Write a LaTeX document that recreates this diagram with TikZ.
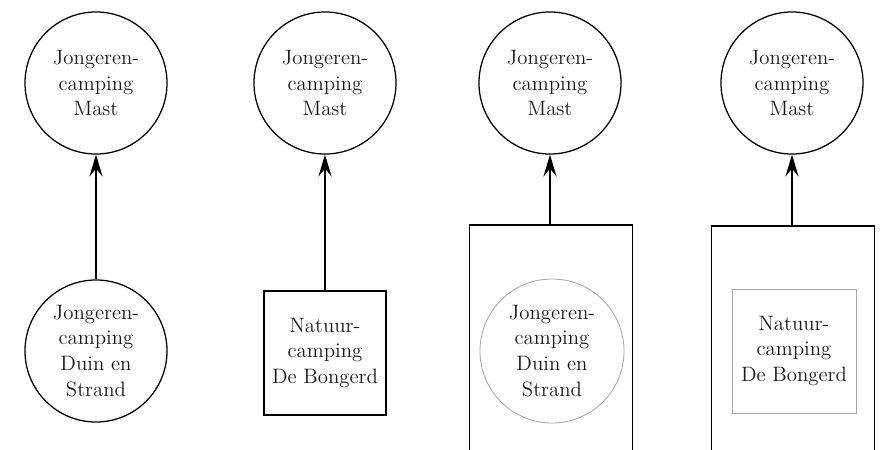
\documentclass[tikz,border=0pt]{standalone}
\usepackage{xcolor}
\usepackage{tikz}
\usetikzlibrary{positioning,arrows.meta}

\begin{document}
\begin{tikzpicture}[x=0.025cm, y=-0.025cm,
  camp/.style={draw, circle, line width=0.9pt, minimum size=3.55cm, inner sep=0pt, align=center, text=black!90, font=\fontsize{14.8}{18.4}\selectfont},
  nat/.style={draw, rectangle, line width=0.9pt, minimum width=3.05cm, minimum height=3.1cm, inner sep=0pt, align=center, text=black!90, font=\fontsize{14.8}{18.4}\selectfont},
  grp/.style={draw, rectangle, line width=0.9pt, minimum width=4.08cm, minimum height=6.9cm, inner sep=0pt},
  inner/.style={draw=black!35, line width=0.6pt},
  arr/.style={-{Stealth[length=5.5mm, width=3.3mm, inset=2mm]}, line width=0.9pt}
]
\clip (0,0) rectangle (884,449);

% top row
\node[camp] (mast1) at (96,83)  {Jongeren-\\camping\\Mast};
\node[camp] (mast2) at (325,83) {Jongeren-\\camping\\Mast};
\node[camp] (mast3) at (550,83) {Jongeren-\\camping\\Mast};
\node[camp] (mast4) at (792,83) {Jongeren-\\camping\\Mast};

% bottom row
\node[camp] (duin1) at (96,351)  {Jongeren-\\camping\\Duin en\\Strand};
\node[nat]  (bong2) at (325,353) {Natuur-\\camping\\De Bongerd};

\node[grp] (grp3) at (551,363) {};
\node[camp, inner, minimum size=3.6cm] (duin3) at (552,351) {Jongeren-\\camping\\Duin en\\Strand};

\node[grp] (grp4) at (793,364) {};
\node[nat, inner, minimum width=3.1cm, minimum height=3.1cm] (bong4) at (794,351) {Natuur-\\camping\\De Bongerd};

% arrows
\draw[arr] (duin1) -- (mast1);
\draw[arr] (bong2) -- (mast2);
\draw[arr] (grp3.north -| mast3.south) -- (mast3.south);
\draw[arr] (grp4.north -| mast4.south) -- (mast4.south);

\end{tikzpicture}
\end{document}
